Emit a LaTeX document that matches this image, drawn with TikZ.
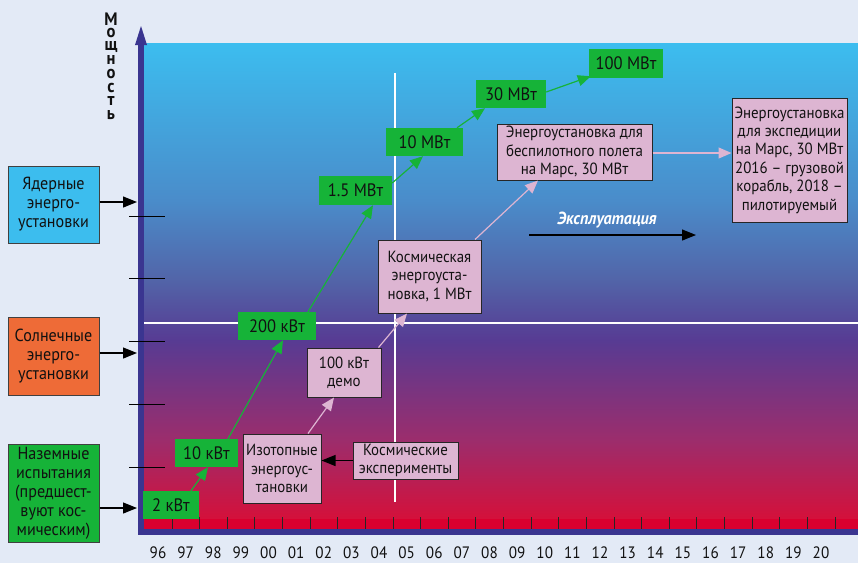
\documentclass[tikz,border=0pt]{standalone}
\usepackage{fontspec}
\setmainfont{PT Sans}[FakeStretch=0.92]
\usetikzlibrary{arrows.meta,calc}
\definecolor{bg}{HTML}{E3EAF6}
\definecolor{axisblue}{HTML}{3A3590}
\definecolor{grn}{HTML}{16B338}
\definecolor{pnk}{HTML}{DDB5D2}
\definecolor{orng}{HTML}{EE6B37}
\definecolor{cyanbox}{HTML}{3CBDEE}
\definecolor{txt}{HTML}{111111}
\definecolor{c1}{HTML}{3CBDEF}
\definecolor{c2}{HTML}{4A8CCA}
\definecolor{c3}{HTML}{5264A8}
\definecolor{c4}{HTML}{573B93}
\definecolor{c5}{HTML}{9C2D6C}
\definecolor{c6}{HTML}{D5103A}
\definecolor{c7}{HTML}{D9002F}
\tikzset{
  basefont/.style={font=\fontsize{16.2}{18.4}\selectfont, text=txt},
  gbox/.style={basefont, font=\fontsize{18}{19}\selectfont, fill=grn, inner sep=0pt, align=center},
  pbox/.style={basefont, fill=pnk, draw=black!85, line width=1pt, inner sep=0pt, align=center},
  lbox/.style={basefont, font=\fontsize{17.5}{19}\selectfont, draw=black!75, line width=1pt, inner sep=0pt, align=center},
  garrow/.style={draw=grn, line width=1.2pt, -{Triangle[length=13pt,width=11pt,fill=grn]}},
  parrow/.style={draw=pnk, line width=1.2pt, -{Triangle[length=13pt,width=11pt,fill=pnk]}},
  barrow/.style={draw=black, line width=1.2pt, -{Triangle[length=14pt,width=11pt,fill=black]}},
  yearlab/.style={font=\fontsize{16.5}{18}\selectfont, text=txt, inner sep=0pt},
  axletter/.style={font=\bfseries\fontsize{18}{18}\selectfont, text=txt, inner sep=0pt},
}
\begin{document}
\begin{tikzpicture}[x=1pt,y=-1pt]
\useasboundingbox (0,0) rectangle (858,563);
\fill[bg] (0,0) rectangle (858,563);
% gradient plot area
\shade[top color=c1, bottom color=c2] (144,43) rectangle (858,200.5);
\shade[top color=c2, bottom color=c3] (144,200) rectangle (858,280.5);
\shade[top color=c3, bottom color=c4] (144,280) rectangle (858,340.5);
\shade[top color=c4, bottom color=c5] (144,340) rectangle (858,440.5);
\shade[top color=c5, bottom color=c6] (144,440) rectangle (858,519.5);
\fill[c7] (144,519) rectangle (858,529);
% white guide lines
\draw[white, line width=1.5pt] (144,323) -- (858,323);
\draw[white, line width=1.5pt] (395,73) -- (395,502);
% x ticks
\foreach \k in {0,...,24} {
  \draw[black!85, line width=1pt] ({172+27.625*\k},517) -- ({172+27.625*\k},529);
}
% axes
\fill[axisblue] (138,40) rectangle (144,535);
\fill[axisblue] (138,529) rectangle (858,535);
\fill[axisblue] (135,45) -- (147,45) -- (141,26) -- cycle;
% y ticks
\foreach \yy in {216,278,341,404,467} {
  \draw[black, line width=1pt] (129,\yy) -- (165,\yy);
}
% year labels
\foreach \lab [count=\i from 0] in {96,97,98,99,00,01,02,03,04,05,06,07,08,09,10,11,12,13,14,15,16,17,18,19,20} {
  \node[yearlab] (yr\i) at ({158+27.625*\i},553) {\lab};
}
% axis label (stacked letters)
\foreach \ch [count=\j from 0] in {М,о,щ,н,о,с,т,ь} {
  \node[axletter] (ax\j) at (111,{19.5+13.6*\j}) {\ch};
}
% left boxes
\node[lbox, fill=cyanbox, minimum width=91pt, minimum height=77pt] (yad) at (53.5,204.5) {Ядерные\\энерго-\\установки};
\node[lbox, fill=orng, minimum width=91pt, minimum height=78pt] (sol) at (53.5,356) {Солнечные\\энерго-\\установки};
\node[lbox, fill=grn, minimum width=91pt, minimum height=98pt] (naz) at (53.5,493) {Наземные\\испытания\\(предшест-\\вуют кос-\\мическим)};
\coordinate (axY) at (137,202);
\coordinate (axS) at (137,353);
\coordinate (axN) at (137,508);
\draw[barrow] (yad.east |- axY) -- (axY);
\draw[barrow] (sol.east |- axS) -- (axS);
\draw[barrow] (naz.east |- axN) -- (axN);
% green value boxes
\node[gbox, minimum width=56pt, minimum height=28pt] (g2) at (171,505) {2 кВт};
\node[gbox, minimum width=63pt, minimum height=28pt] (g10) at (206.5,453) {10 кВт};
\node[gbox, minimum width=78pt, minimum height=28pt] (g200) at (277,326) {200 кВт};
\node[gbox, minimum width=73pt, minimum height=29pt] (g15) at (355.5,190.5) {1.5 МВт};
\node[gbox, minimum width=77pt, minimum height=28pt] (g10M) at (424.5,142) {10 МВт};
\node[gbox, minimum width=70pt, minimum height=28pt] (g30M) at (511,94) {30 МВт};
\node[gbox, minimum width=74pt, minimum height=29pt] (g100M) at (626,63.5) {100 МВт};
\draw[garrow] ([xshift=20pt]g2.north) -- ([xshift=1.5pt]g10.south);
\draw[garrow] ([xshift=21.5pt]g10.north) -- ([xshift=6pt]g200.south);
\draw[garrow] ([xshift=31pt]g200.north) -- ([xshift=17.5pt]g15.south);
\draw[garrow] ([yshift=7.5pt]g15.east) -- ([xshift=-1.5pt]g10M.south);
\draw[garrow] ([xshift=32.5pt]g10M.north) -- ([xshift=-26pt]g30M.south);
\draw[garrow] ([yshift=2pt]g30M.east) -- ([xshift=2pt,yshift=2pt]g100M.south west);
% pink boxes
\node[pbox, minimum width=78pt, minimum height=69pt] (iso) at (282,468.5) {Изотопные\\энергоус-\\тановки};
\node[pbox, minimum width=105pt, minimum height=37pt] (kex) at (405.5,460.5) {Космические\\эксперименты};
\node[pbox, minimum width=74pt, minimum height=49pt] (demo) at (344,372.5) {100 кВт\\демо};
\node[pbox, minimum width=103pt, minimum height=73pt] (kos) at (429.5,276.5) {Космическая\\энергоуста-\\новка, 1 МВт};
\node[pbox, minimum width=155pt, minimum height=56pt] (bes) at (574.5,152) {Энергоустановка для\\беспилотного полета\\на Марс, 30 МВт};
\node[pbox, minimum width=115pt, minimum height=124pt] (exp) at (789.5,160) {Энергоустановка\\для экспедиции\\на Марс, 30 МВт\\2016 -- грузовой\\корабль, 2018 --\\пилотируемый};
\draw[barrow] (kex.west) -- (kex.west -| iso.east);
\draw[parrow] ([xshift=26pt]iso.north) -- ([xshift=-10pt]demo.south);
\draw[parrow] ([xshift=-3pt]demo.north east) -- ([xshift=-22.5pt]kos.south);
\draw[parrow] ([xshift=45.5pt]kos.north) -- ([xshift=-36.5pt]bes.south);
\draw[parrow] ([yshift=-1pt]bes.east) -- ([yshift=-1pt]bes.east -| exp.west);
% exploitation
\node[font=\bfseries\itshape\fontsize{17.5}{19}\selectfont, text=white, inner sep=0pt] (expl) at (607,220) {Эксплуатация};
\coordinate (ex1) at (529,235);
\coordinate (ex2) at (696,235);
\draw[barrow] (ex1) -- (ex2);
\end{tikzpicture}
\end{document}
